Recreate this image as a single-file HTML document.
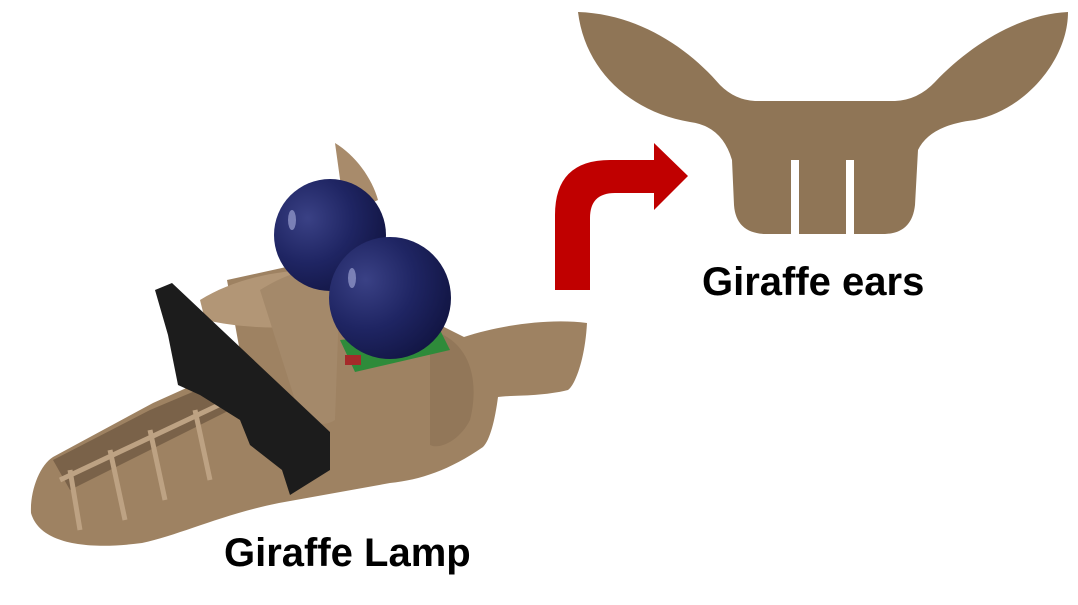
<!DOCTYPE html>
<html><head><meta charset="utf-8"><style>
html,body{margin:0;padding:0;background:#fff;}
svg{display:block}
text{font-family:"Liberation Sans",Arial,sans-serif;font-weight:bold;fill:#000}
</style></head><body>
<svg width="1078" height="605" viewBox="0 0 1078 605">
<defs>
<radialGradient id="ball" cx="0.3" cy="0.35" r="0.8">
<stop offset="0" stop-color="#3a4185"/><stop offset="0.5" stop-color="#1f2563"/><stop offset="1" stop-color="#10133f"/>
</radialGradient>
</defs>
<g>
<path d="M578,12 C640,14 690,50 720,85 Q735,100 755,101 L895,101 Q918,100 935,82 C970,45 1020,14 1068,12 C1068,60 1025,110 975,120 Q930,125 918,150 L915,205 Q912,233 885,234 L765,234 Q736,233 734,205 L732,160 Q722,126 690,122 C630,112 585,70 578,12 Z" fill="#8f7556"/>
<rect x="791" y="160" width="8" height="76" fill="#fff"/>
<rect x="846" y="160" width="8" height="76" fill="#fff"/>
</g>
<path d="M555,290 L555,215 Q555,160 610,160 L654,160 L654,143 L688,176 L654,210 L654,193 L615,193 Q590,193 590,218 L590,290 Z" fill="#c00000"/>
<g>
<path d="M335,143 C355,155 372,178 378,200 L345,215 Z" fill="#a88b6b"/>
<path d="M31,513 C30,490 40,465 53,457 L153,403 L242,363 L227,280 L309,262 L360,300 L430,320 L464,337 C500,325 550,318 587,323 C585,360 575,385 568,390 C540,397 510,395 498,397 C495,420 490,440 483,447 C450,470 420,480 390,483 L279,503 C220,515 180,535 142,543 C90,550 40,545 31,513 Z" fill="#9e8262"/>
<path d="M53,460 L150,410 L240,372 L250,400 L170,440 L70,490 Z" fill="#7a6249"/>
<path d="M70,470 L80,530 M110,450 L125,520 M150,430 L165,500 M195,410 L210,480" stroke="#bda283" stroke-width="5" fill="none"/>
<path d="M60,480 L240,395" stroke="#bda283" stroke-width="5"/>
<path d="M200,300 C240,275 300,265 345,272 L355,320 C300,330 250,330 205,320 Z" fill="#b29676"/>
<path d="M260,290 C300,265 330,265 340,280 L335,420 C320,430 300,420 295,400 Z" fill="#a4896a"/>
<path d="M430,330 C470,340 480,380 470,420 C460,440 440,450 430,445 Z" fill="#927759"/>
<path d="M155,290 L172,283 L330,432 L330,470 L290,495 L282,470 L250,445 L240,420 L200,395 L178,385 L168,335 Z" fill="#1c1c1c"/>
<path d="M340,340 L440,330 L450,350 L355,372 Z" fill="#2e8b3a"/>
<rect x="345" y="355" width="16" height="10" fill="#a52a2a"/>
<circle cx="330" cy="235" r="56" fill="url(#ball)"/>
<circle cx="390" cy="298" r="61" fill="url(#ball)"/>
<ellipse cx="352" cy="278" rx="4" ry="10" fill="#9aa0d0" opacity="0.7"/>
<ellipse cx="292" cy="220" rx="4" ry="10" fill="#9aa0d0" opacity="0.7"/>
</g>
<text x="702" y="295" font-size="40">Giraffe ears</text>
<text x="224" y="566" font-size="40">Giraffe Lamp</text>
</svg>
</body></html>
